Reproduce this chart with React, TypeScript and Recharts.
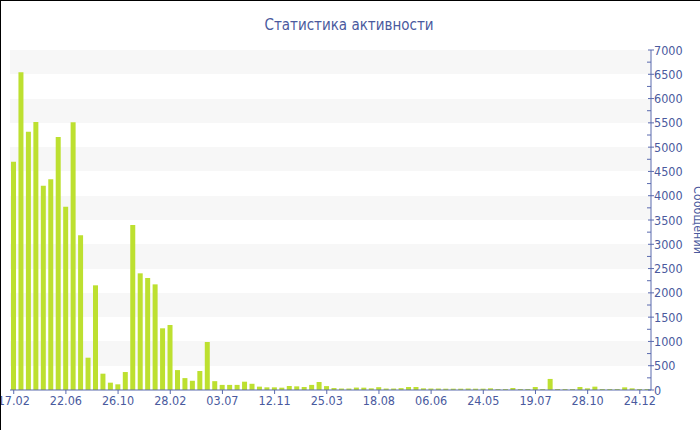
import React from 'react';
import { BarChart, Bar, XAxis, YAxis, CartesianGrid, Label } from 'recharts';

const tickLabels = ['17.02', '22.06', '26.10', '28.02', '03.07', '12.11', '25.03', '18.08', '06.06', '24.05', '19.07', '28.10', '24.12'];

const messages = [
  4700, 6540, 5318, 5518, 4206, 4337, 5209, 3774, 5511, 3184,
  665, 2155, 336, 151, 117, 370, 3397, 2402, 2306, 2175,
  1270, 1338, 410, 245, 190, 391, 988, 182, 105, 105,
  105, 171, 128, 69, 55, 55, 48, 82, 75, 62,
  105, 165, 80, 40, 30, 30, 50, 48, 34, 58,
  30, 30, 38, 62, 62, 34, 30, 30, 27, 27,
  27, 30, 27, 27, 34, 20, 20, 41, 20, 20,
  62, 20, 228, 20, 20, 20, 62, 34, 69, 20,
  20, 20, 55, 34, 20, 20,
];

const yTicks: number[] = [];
for (let v = 0; v <= 7000; v += 250) yTicks.push(v);
const bandValues: number[] = [];
for (let v = 0; v <= 7000; v += 500) bandValues.push(v);

const data = messages.map((v, i) => ({ i, v }));

const TEXT = '#4a5a9e';
const AXIS = '#5a6aae';
const BAR = '#bde030';
const FONT = '"DejaVu Sans Condensed", "DejaVu Sans", sans-serif';

const YTick = (props: any) => {
  const { x, y, payload } = props;
  const v = payload.value;
  const major = v % 500 === 0;
  return (
    <g>
      <line x1={major ? x - 3 : x - 4} x2={major ? x + 3 : x} y1={y} y2={y} stroke={AXIS} strokeWidth={1} />
      {major && (
        <text x={x + 3} y={y} dy="0.36em" fill={TEXT} fontSize={12.5} fontFamily={FONT} textAnchor="start"
          style={{ fontStretch: 'condensed' }}>
          {v}
        </text>
      )}
    </g>
  );
};

const YTitle = (props: any) => {
  const vb = props.viewBox || { x: 651, y: 50, width: 49, height: 340 };
  const cx = vb.x + vb.width - 6;
  const cy = vb.y + vb.height / 2;
  return (
    <text x={cx} y={cy} transform={`rotate(90, ${cx}, ${cy})`} textAnchor="middle" fill={TEXT}
      fontSize={12.5} fontFamily={FONT} style={{ fontStretch: 'condensed' }}>
      Сообщений
    </text>
  );
};

export default function App() {
  return (
    <div style={{ position: 'absolute', left: 0, top: 0, width: 700, height: 430, background: '#fff', overflow: 'hidden' }}>
      <BarChart width={700} height={430} data={data} margin={{ top: 50, right: 0, bottom: 10, left: 10 }}
        barCategoryGap={1}>
        <CartesianGrid vertical={false} stroke="none" horizontalValues={bandValues}
          horizontalFill={['#f7f7f7', '#ffffff']} />
        <XAxis dataKey="i" type="category" interval={6} tickSize={4} tickMargin={2}
          tickFormatter={(v: number) => tickLabels[Math.round(v / 7)] ?? ''}
          tick={{ fill: TEXT, fontSize: 12.5, fontFamily: FONT, style: { fontStretch: 'condensed' } } as any}
          axisLine={{ stroke: AXIS }} tickLine={{ stroke: AXIS }} />
        <YAxis orientation="right" width={49} domain={[0, 7000]} ticks={yTicks} interval={0}
          tickSize={0} tickMargin={0} tickLine={false} axisLine={{ stroke: AXIS }} tick={<YTick />}>
          <Label content={<YTitle />} />
        </YAxis>
        <Bar dataKey="v" fill={BAR} isAnimationActive={false} />
      </BarChart>
      <div style={{ position: 'absolute', left: 0, top: 14, width: 698, textAlign: 'center', color: TEXT,
        fontFamily: FONT, fontStretch: 'condensed', fontSize: 15, lineHeight: '22px' }}>
        Статистика активности
      </div>
      <div style={{ position: 'absolute', left: 0, top: 0, width: 700, height: 430, borderTop: '1px solid #000',
        borderLeft: '1px solid #000', boxSizing: 'border-box', pointerEvents: 'none' }} />
    </div>
  );
}
